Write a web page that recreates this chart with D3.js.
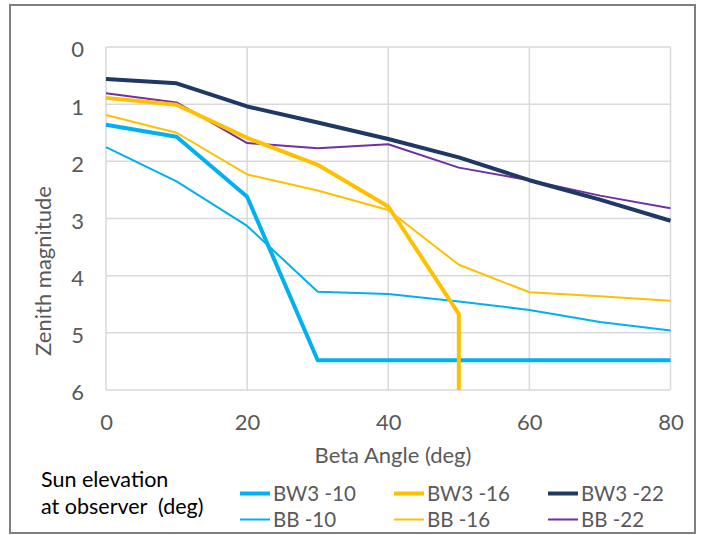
<!DOCTYPE html>
<html><head><meta charset="utf-8">
<script src="https://cdn.jsdelivr.net/npm/d3@7"></script>
<style>body{margin:0;background:#fff}svg{display:block}text{font-family:Lato,"Open Sans",sans-serif;fill:#595959}</style>
</head><body><svg id="c" width="704" height="535"></svg>
<script>
const betaAngles = [0,10,20,30,40,50,60,70,80];
const bw3_10 = [1.36,1.57,2.62,5.48,5.48,5.48,5.48,5.48,5.48];
const bw3_16x = [0,10,20,30,40,50,50];
const bw3_16 = [0.89,1.01,1.59,2.06,2.79,4.67,6];
const bw3_22 = [0.56,0.635,1.04,1.32,1.61,1.93,2.33,2.67,3.04];
const bb_10 = [1.75,2.35,3.13,4.28,4.32,4.45,4.60,4.81,4.96];
const bb_16 = [1.19,1.50,2.23,2.51,2.85,3.81,4.29,4.36,4.44];
const bb_22 = [0.81,0.97,1.68,1.77,1.70,2.11,2.33,2.60,2.82];
const xTicks = [0,20,40,60,80];
const yTicks = [0,1,2,3,4,5,6];
const seriesNames = ["BW3 -10","BW3 -16","BW3 -22","BB -10","BB -16","BB -22"];
const colors = ["#00B0F0","#FFC000","#203864","#00B0F0","#FFC000","#7030A0"];
const widths = [4,4,4,2,2,2];

const series = [
  {name:seriesNames[0], xs:betaAngles, ys:bw3_10},
  {name:seriesNames[1], xs:bw3_16x, ys:bw3_16},
  {name:seriesNames[2], xs:betaAngles, ys:bw3_22},
  {name:seriesNames[3], xs:betaAngles, ys:bb_10},
  {name:seriesNames[4], xs:betaAngles, ys:bb_16},
  {name:seriesNames[5], xs:betaAngles, ys:bb_22}
];

const svg = d3.select("#c");
svg.append("rect").attr("x",10).attr("y",5).attr("width",685).attr("height",528)
  .attr("fill","#fff").attr("stroke","#7f7f7f").attr("stroke-width",2);

const x = d3.scaleLinear().domain([0,80]).range([106,670.5]);
const y = d3.scaleLinear().domain([0,6]).range([47,390]);

const g = svg.append("g");
g.selectAll("line.h").data(yTicks).join("line")
  .attr("x1",x(0)).attr("x2",x(80)).attr("y1",d=>y(d)).attr("y2",d=>y(d))
  .attr("stroke","#d9d9d9").attr("stroke-width",1.5);
g.selectAll("line.v").data(xTicks).join("line")
  .attr("y1",y(0)).attr("y2",y(6)).attr("x1",d=>x(d)).attr("x2",d=>x(d))
  .attr("stroke","#d9d9d9").attr("stroke-width",1.5);

const xAxis = svg.append("g").attr("transform",`translate(0,${y(6)})`)
  .call(d3.axisBottom(x).tickValues(xTicks).tickFormat(d3.format("d")).tickSize(0));
const yAxis = svg.append("g").attr("transform",`translate(${x(0)},0)`)
  .call(d3.axisLeft(y).tickValues(yTicks).tickFormat(d3.format("d")).tickSize(0).tickPadding(22));
[xAxis,yAxis].forEach(a=>{a.select(".domain").remove();
  a.selectAll("text").style("font-size","22px").attr("fill","#595959").style("font-family","Lato,'Open Sans',sans-serif");});
xAxis.selectAll("text").attr("y",32).attr("dy","0.36em");
yAxis.selectAll("text").attr("y",2).attr("dy","0.36em");

svg.append("clipPath").attr("id","pc").append("rect")
  .attr("x",x(0)-3).attr("y",y(0)-3).attr("width",x(80)-x(0)+6).attr("height",y(6)-y(0)+3);

const line = d3.line().x(d=>x(d[0])).y(d=>y(d[1]));
const order = [3,4,5,0,1,2];
svg.append("g").attr("clip-path","url(#pc)").selectAll("path").data(order).join("path")
  .attr("d",i=>line(series[i].xs.map((v,k)=>[v,series[i].ys[k]])))
  .attr("fill","none").attr("stroke",i=>colors[i]).attr("stroke-width",i=>widths[i])
  .attr("stroke-linejoin","round");

svg.append("text").attr("transform",`translate(51,271) rotate(-90)`)
  .attr("text-anchor","middle").style("font-size","22px").text("Zenith magnitude");
svg.append("text").attr("x",393).attr("y",463).attr("text-anchor","middle")
  .style("font-size","22px").text("Beta Angle (deg)");

svg.append("text").attr("x",41).attr("y",487).style("font-size","21.5px").style("fill","#000").text("Sun elevation");
svg.append("text").attr("x",41).attr("y",514).style("font-size","21.5px").style("fill","#000")
  .style("white-space","pre").text("at observer  (deg)");

const colX = [240,394,548];
const rowY = [493.5,519.5];
series.forEach((s,i)=>{
  const cx = colX[i%3], cy = rowY[Math.floor(i/3)];
  svg.append("line").attr("x1",cx).attr("x2",cx+30).attr("y1",cy).attr("y2",cy)
    .attr("stroke",colors[i]).attr("stroke-width",widths[i]);
  svg.append("text").attr("x",cx+33).attr("y",cy+7).style("font-size","20.5px").text(s.name);
});
</script></body></html>
